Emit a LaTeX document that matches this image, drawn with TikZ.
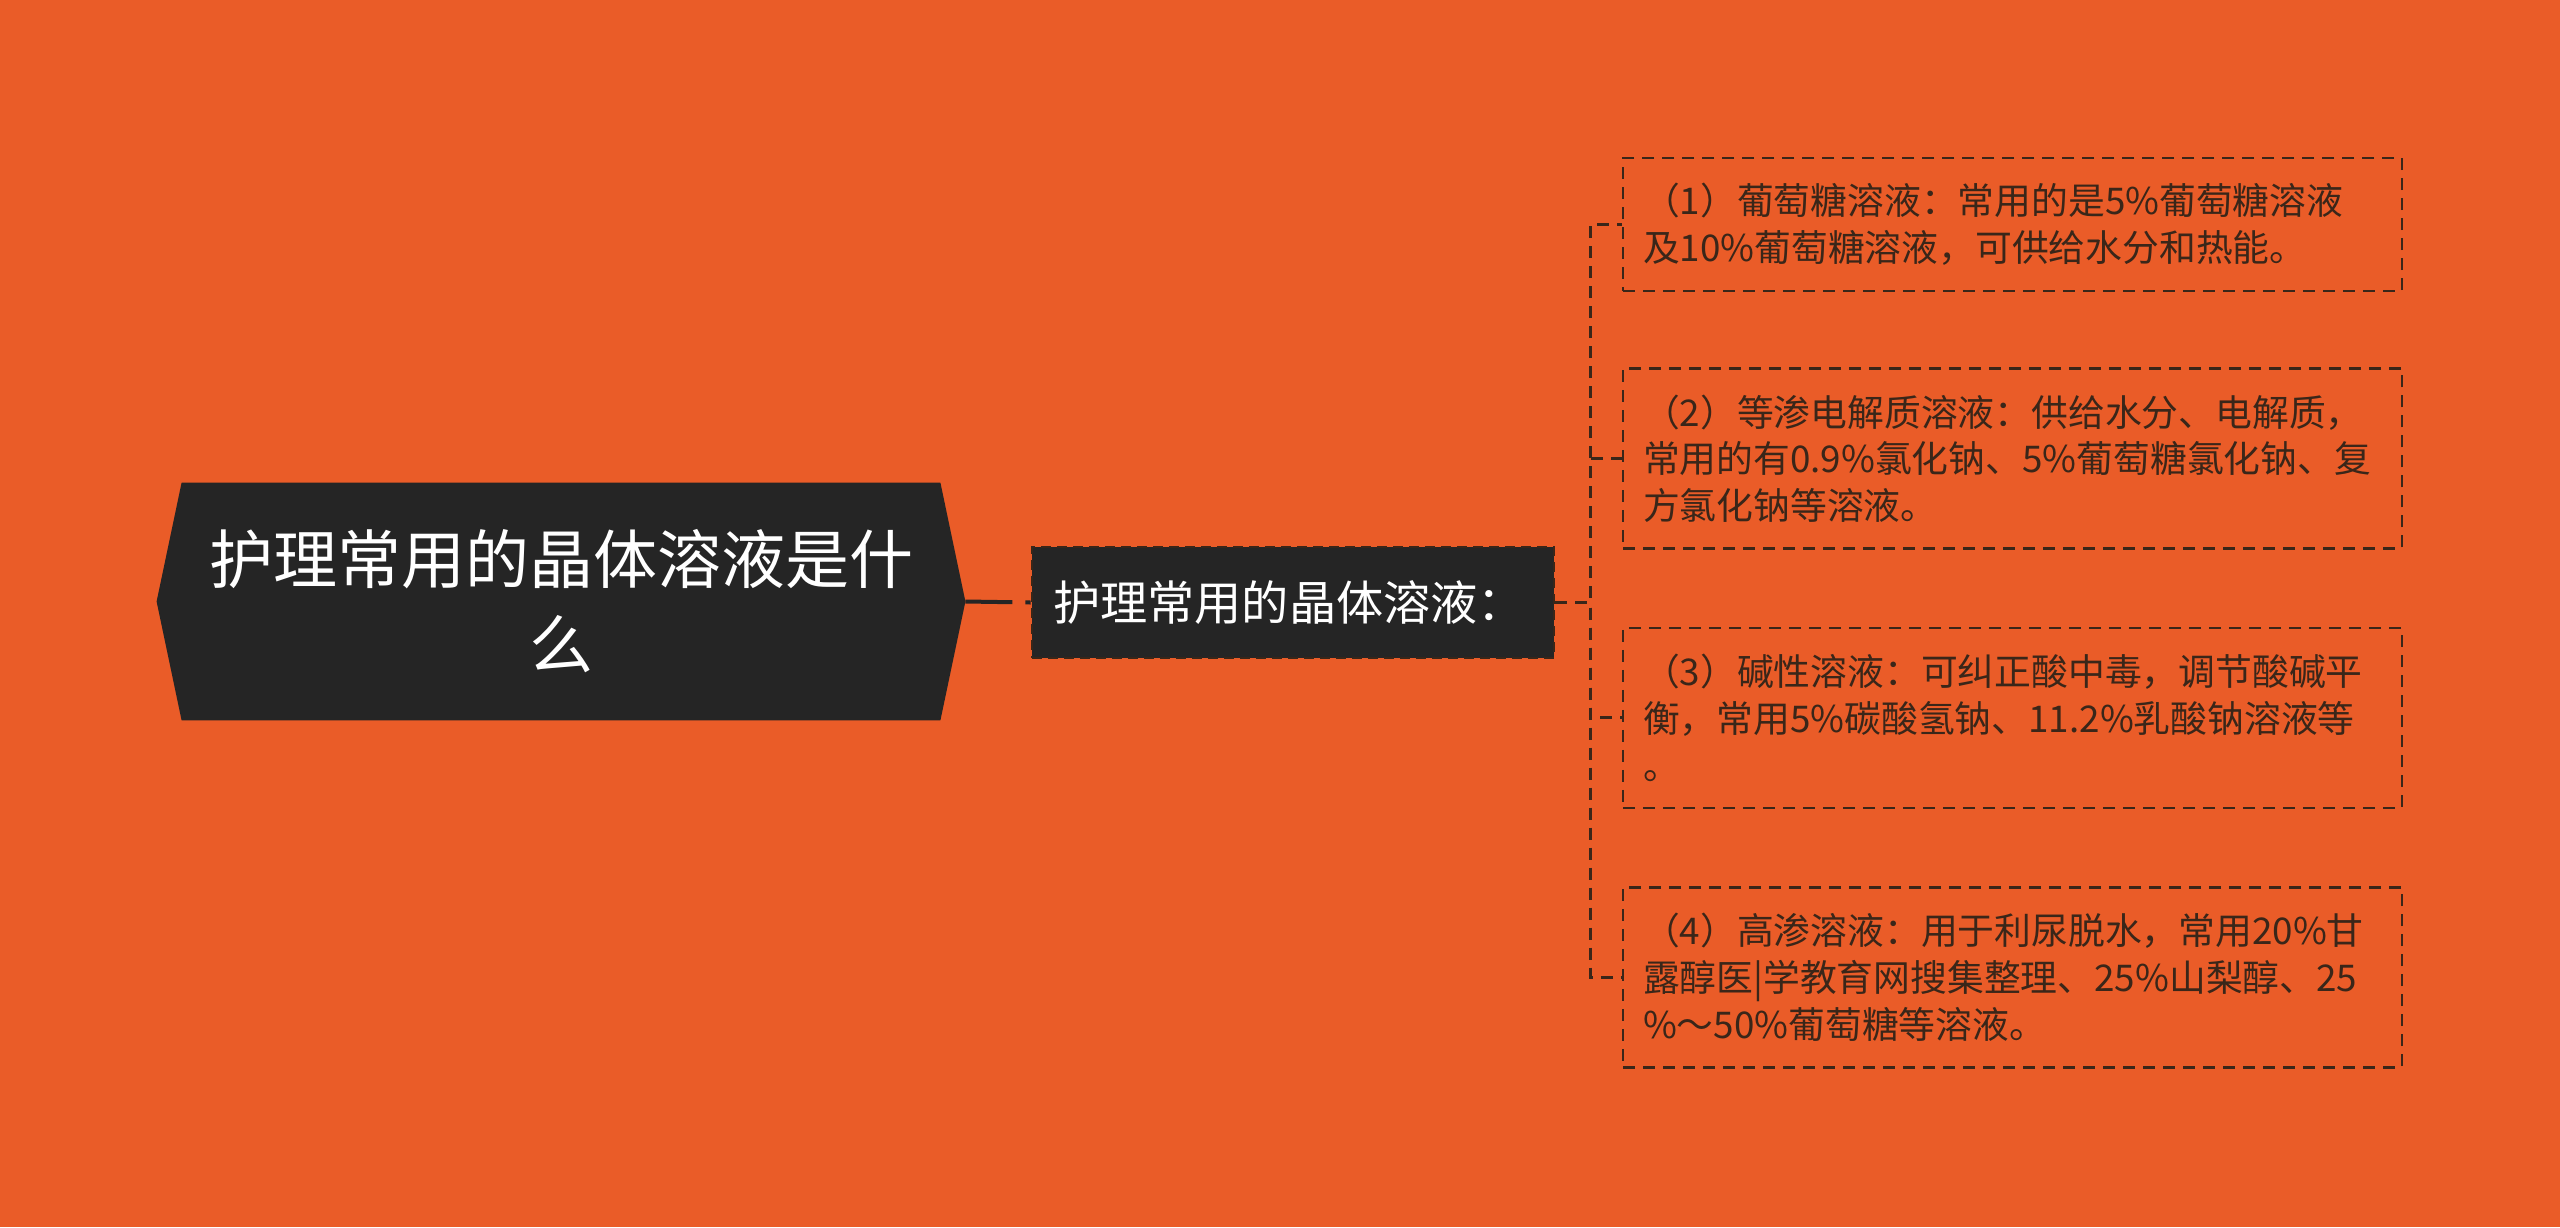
\documentclass[tikz,border=0pt]{standalone}
\usepackage{fontspec}
\newfontfamily\cjk{Noto Sans CJK SC}
\usetikzlibrary{positioning, backgrounds}

\definecolor{bgorange}{HTML}{EA5C28}
\definecolor{darkbox}{HTML}{252525}
\definecolor{inkbrown}{HTML}{3A2619}

\tikzset{
  leaf/.style={rectangle, draw=inkbrown, line width=1.3pt, dash pattern=on 6pt off 4pt,
    text=inkbrown, minimum width=389.5pt, text width=369.5pt, inner xsep=10pt,
    align=left, font=\cjk\fontsize{18.4}{23.3}\selectfont},
  link/.style={draw=inkbrown, line width=1.5pt, dash pattern=on 6pt off 4pt}
}

\begin{document}
\begin{tikzpicture}[x=0.5pt, y=-0.5pt]
    \begin{scope}[on background layer]
        \fill[bgorange] (0,0) rectangle (2560,1227);
    \end{scope}

    \node[text=white, align=center, inner sep=0pt, minimum width=379pt, minimum height=118.5pt,
        font=\cjk\fontsize{32}{42.5}\selectfont] (root) at (561,601.5) {护理常用的晶体溶液是什\\么};
    \begin{scope}[on background layer]
        \fill[darkbox] (root.north west) -- (root.north east) -- ([xshift=12.5pt]root.east)
            -- (root.south east) -- (root.south west) -- ([xshift=-12.5pt]root.west) -- cycle;
    \end{scope}

    \node[rectangle, fill=darkbox, draw=inkbrown, line width=1.3pt, dash pattern=on 5pt off 3pt,
        text=white, minimum width=261pt, minimum height=55.5pt, inner xsep=10.5pt,
        text width=240pt, align=left,
        font=\cjk\fontsize{23.6}{28}\selectfont] (crys) at (1293,602.5) {护理常用的晶体溶液：};

    \node[leaf, minimum height=66.5pt] (sol1) at (2012.5,224.5)
        {（1）葡萄糖溶液：常用的是5\%葡萄糖溶液\\及10\%葡萄糖溶液，可供给水分和热能。};
    \node[leaf, minimum height=90pt, below=37.4pt of sol1] (sol2)
        {（2）等渗电解质溶液：供给水分、电解质，\\常用的有0.9\%氯化钠、5\%葡萄糖氯化钠、复\\方氯化钠等溶液。};
    \node[leaf, minimum height=90pt, below=38.4pt of sol2] (sol3)
        {（3）碱性溶液：可纠正酸中毒，调节酸碱平\\衡，常用5\%碳酸氢钠、11.2\%乳酸钠溶液等\\。};
    \node[leaf, minimum height=90pt, below=38.4pt of sol3] (sol4)
        {（4）高渗溶液：用于利尿脱水，常用20\%甘\\露醇医|学教育网搜集整理、25\%山梨醇、25\\ \%～50\%葡萄糖等溶液。};

    \coordinate[right=17.5pt of crys.east] (fork);

    \draw[draw=darkbox, line width=2pt, dash pattern=on 23.5pt off 6.5pt on 4pt]
        ([xshift=12.5pt]root.east) -- (crys.west);
    \foreach \n in {1,...,4}
        \draw[link] (crys.east) -- (fork) |- (sol\n.west);
\end{tikzpicture}
\end{document}
